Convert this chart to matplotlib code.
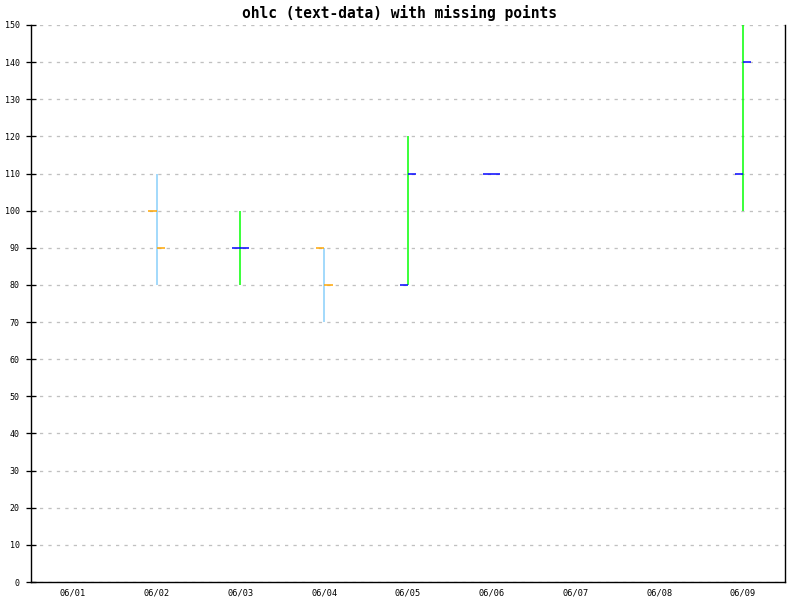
import matplotlib
matplotlib.use("Agg")
import matplotlib.pyplot as plt
import numpy as np

labels = ["06/01", "06/02", "06/03", "06/04", "06/05", "06/06", "06/07", "06/08", "06/09"]
opens  = [np.nan, 100, 90, 90, 80, 110, np.nan, np.nan, 110]
highs  = [np.nan, 110, 100, 90, 120, 110, np.nan, np.nan, 150]
lows   = [np.nan, 80, 80, 70, 80, 110, np.nan, np.nan, 100]
closes = [np.nan, 90, 90, 80, 110, 110, np.nan, np.nan, 140]

up_line, up_tick = "#00ff00", "#0000ff"
down_line, down_tick = "#87cefa", "#ffa500"

px = 0.72  # one pixel in points at dpi 100
fig = plt.figure(figsize=(8, 6), dpi=100)
ax = fig.add_axes([31/800, 18/600, (785-31)/800, (582-25)/600])

x = np.arange(len(labels))
tick = 0.1
for i in x:
    o, h, l, c = opens[i], highs[i], lows[i], closes[i]
    if np.isnan(o):
        continue
    up = c >= o
    lc = up_line if up else down_line
    tc = up_tick if up else down_tick
    if h > l:
        ax.vlines(i, l, h, color=lc, lw=px*1.5, zorder=3)
    ax.hlines(o, i - tick, i, color=tc, lw=px*1.5, zorder=4)
    ax.hlines(c, i, i + tick, color=tc, lw=px*1.5, zorder=4)

ax.set_xlim(-0.5, len(labels) - 0.5)
ax.set_ylim(0, 150)
ax.set_yticks(np.arange(0, 151, 10))
ax.set_xticks(x)
ax.set_xticklabels(labels, fontfamily="DejaVu Sans Mono", fontsize=6.2)
for t in ax.get_yticklabels():
    t.set_fontfamily("DejaVu Sans Mono")
    t.set_fontsize(6)
ax.tick_params(axis="y", direction="inout", length=6.5, width=px*1.3, pad=5, colors="black")
ax.tick_params(axis="x", length=0, pad=5)
ax.yaxis.grid(True, color="#c0c0c0", linestyle=(0, (2.5, 4)), lw=px*1.3, zorder=0)
ax.set_axisbelow(True)
for s in ["left", "right", "bottom"]:
    ax.spines[s].set_linewidth(px*1.4)
    ax.spines[s].set_color("black")
ax.spines["top"].set_visible(False)

fig.text(0.5, 1 - 13/600, "ohlc (text-data) with missing points", ha="center", va="center",
         fontfamily="DejaVu Sans Mono", fontsize=10.5, fontweight="bold")

fig.savefig("out.png", dpi=100)
